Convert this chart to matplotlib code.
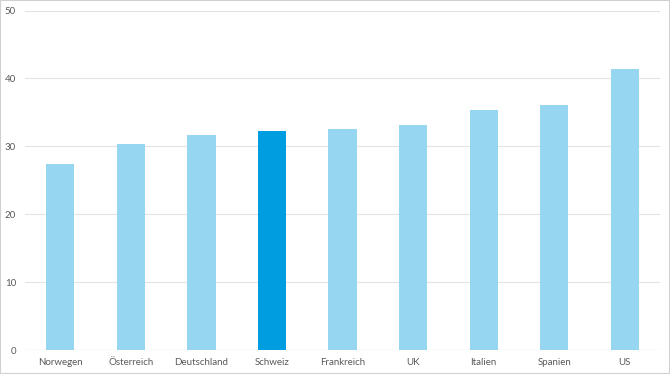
import matplotlib
matplotlib.use("Agg")
import matplotlib.pyplot as plt
from matplotlib.patches import Rectangle

categories = ["Norwegen", "Österreich", "Deutschland", "Schweiz", "Frankreich", "UK", "Italien", "Spanien", "US"]
values = [27.4, 30.4, 31.6, 32.2, 32.6, 33.1, 35.3, 36.1, 41.4]
highlight = "Schweiz"
yticks = [0, 10, 20, 30, 40, 50]

light = "#97d6f1"
dark = "#009ee0"
colors = [dark if c == highlight else light for c in categories]

plt.rcParams['font.family'] = ['Lato', 'DejaVu Sans']
fig = plt.figure(figsize=(6.7, 3.74), dpi=100)
ax = fig.add_axes([25/670, 24/374, 635/670, 339.5/374])
ax.bar(range(len(categories)), values, width=0.4, color=colors, zorder=2)
ax.set_xlim(-0.5, len(categories) - 0.5)
ax.set_ylim(0, 50)
ax.set_yticks(yticks)
ax.set_xticks(range(len(categories)))
ax.set_xticklabels(categories)
ax.grid(axis='y', color='#e3e3e3', linewidth=0.8, zorder=0)
for s in ax.spines.values():
    s.set_visible(False)
ax.axhline(0, color='#d8d8d8', linewidth=0.8, zorder=1)
ax.tick_params(axis='both', length=0, labelsize=7, labelcolor='#5a5a5a')
ax.tick_params(axis='x', pad=6)
ax.tick_params(axis='y', pad=6.5)
fig.patches.append(Rectangle((0, 0), 1, 1, transform=fig.transFigure, fill=False,
                             edgecolor='#d0d0d0', linewidth=1.5))
fig.savefig("out.png", dpi=100)
